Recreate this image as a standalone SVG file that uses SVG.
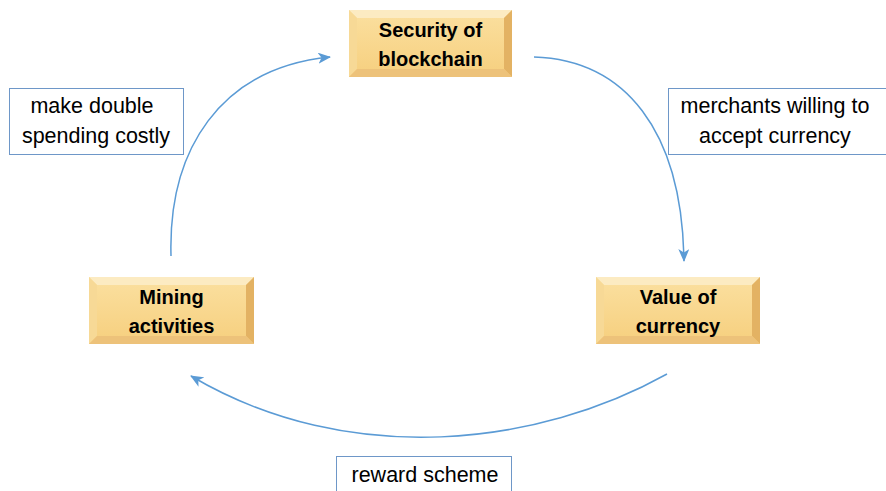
<svg xmlns="http://www.w3.org/2000/svg" width="886" height="491" viewBox="0 0 886 491">
<defs>
<linearGradient id="face" x1="0" y1="0" x2="0" y2="1">
<stop offset="0" stop-color="#FBE0A0"/>
<stop offset="1" stop-color="#F6CF7E"/>
</linearGradient>
<marker id="ah" viewBox="0 0 13 11" refX="12" refY="5.5" markerWidth="13" markerHeight="11" markerUnits="userSpaceOnUse" orient="auto">
<path d="M0,0 L13,5.5 L0,11 L3.5,5.5 Z" fill="#5B9BD5"/>
</marker>
</defs>
<style>
.conn{fill:none;stroke:#5B9BD5;stroke-width:1.5}
.bt{fill:#FCEBC2}.bl{fill:#F7D996}.br{fill:#E3B263}.bb{fill:#EDC27A}
.nt{font-family:"Liberation Sans",Arial,sans-serif;font-weight:bold;font-size:20px;fill:#000;text-anchor:middle}
.lb{fill:#fff;stroke:#6E97C8;stroke-width:1}
.lt{font-family:"Liberation Sans",Arial,sans-serif;font-size:21.5px;fill:#000;text-anchor:middle}
</style>
<rect width="886" height="491" fill="#fff"/>
<g id="connectors">
<path class="conn" d="M171,256 C168,150 220,68 330,57" marker-end="url(#ah)"/>
<path class="conn" d="M534,57 C625,60 682,130 684,261" marker-end="url(#ah)"/>
<path class="conn" d="M667,374 C540,445 350,470 191,376" marker-end="url(#ah)"/>
</g>
<g id="node-security">
<rect x="349" y="10" width="163" height="67" fill="url(#face)"/>
<polygon class="bt" points="349,10 512,10 504,18 357,18"/>
<polygon class="bl" points="349,10 357,18 357,69 349,77"/>
<polygon class="br" points="512,10 504,18 504,69 512,77"/>
<polygon class="bb" points="349,77 357,69 504,69 512,77"/>
<text class="nt" x="430.5" y="37">Security of</text>
<text class="nt" x="430.5" y="66">blockchain</text>
</g>
<g id="node-mining">
<rect x="89" y="277" width="165" height="67" fill="url(#face)"/>
<polygon class="bt" points="89,277 254,277 246,285 97,285"/>
<polygon class="bl" points="89,277 97,285 97,336 89,344"/>
<polygon class="br" points="254,277 246,285 246,336 254,344"/>
<polygon class="bb" points="89,344 97,336 246,336 254,344"/>
<text class="nt" x="171.5" y="304">Mining</text>
<text class="nt" x="171.5" y="333">activities</text>
</g>
<g id="node-value">
<rect x="596" y="277" width="164" height="67" fill="url(#face)"/>
<polygon class="bt" points="596,277 760,277 752,285 604,285"/>
<polygon class="bl" points="596,277 604,285 604,336 596,344"/>
<polygon class="br" points="760,277 752,285 752,336 760,344"/>
<polygon class="bb" points="596,344 604,336 752,336 760,344"/>
<text class="nt" x="678" y="304">Value of</text>
<text class="nt" x="678" y="333">currency</text>
</g>
<g id="label-double">
<rect class="lb" x="9.5" y="88.5" width="174" height="66"/>
<text class="lt" x="92" y="113">make double</text>
<text class="lt" x="96" y="143">spending costly</text>
</g>
<g id="label-merchants">
<rect class="lb" x="668.5" y="88.5" width="218" height="66"/>
<text class="lt" x="775" y="113">merchants willing to</text>
<text class="lt" x="775" y="143">accept currency</text>
</g>
<g id="label-reward">
<rect class="lb" x="336.5" y="456.5" width="175" height="40"/>
<text class="lt" x="425" y="482">reward scheme</text>
</g>
</svg>
